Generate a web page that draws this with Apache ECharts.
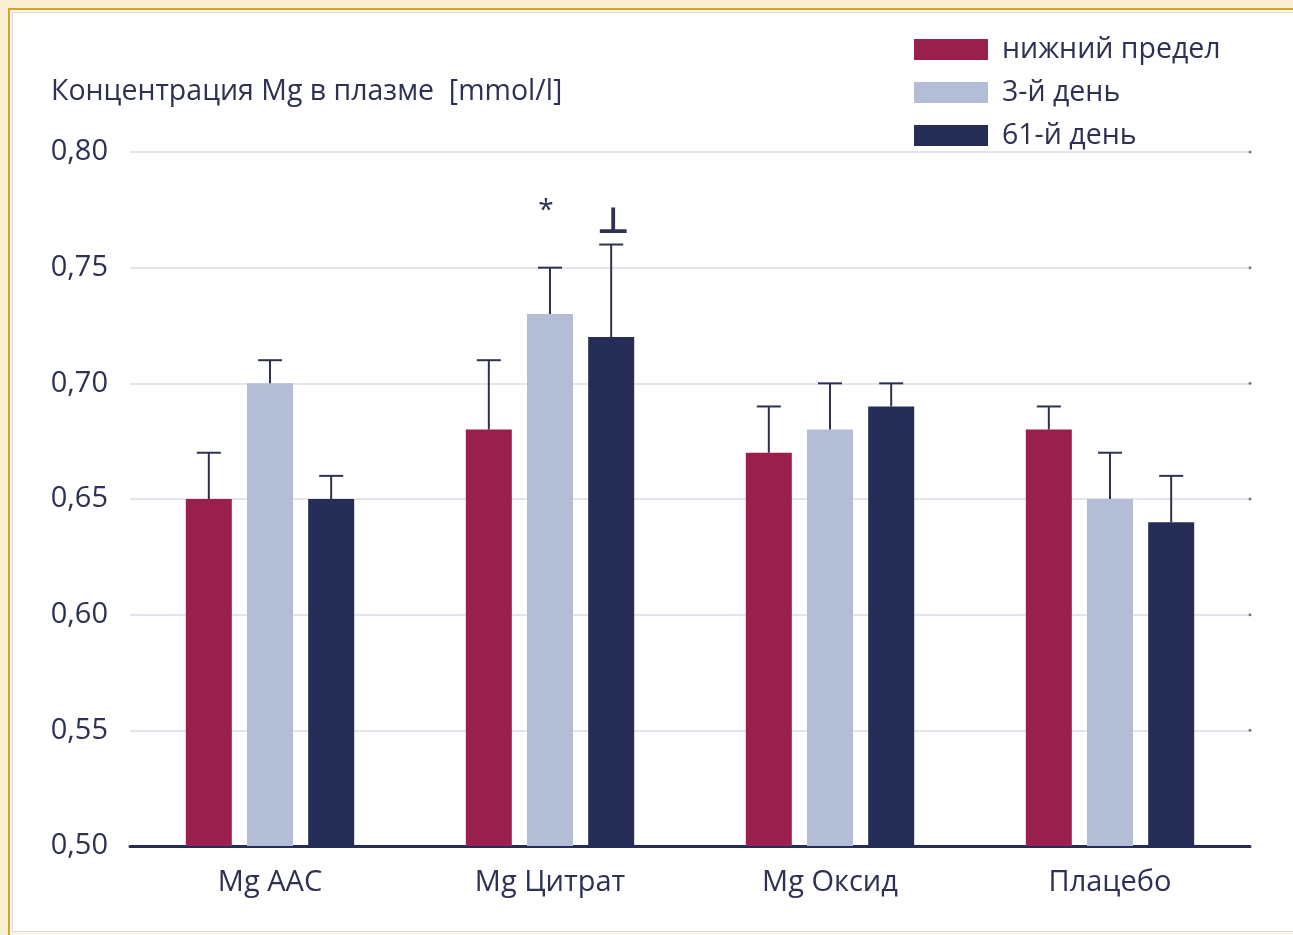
<!DOCTYPE html>
<html><head><meta charset="utf-8">
<script src="https://cdn.jsdelivr.net/npm/echarts@6/dist/echarts.min.js"></script>
<style>
html,body{margin:0;padding:0;width:1293px;height:935px;overflow:hidden;background:#f8efd2;}
#frame{position:absolute;left:8px;top:8px;width:1290px;height:935px;border-left:2px solid #d2a628;border-top:2px solid #d2a628;background:#fbf6e6;}
#panel{position:absolute;left:12px;top:12px;width:1290px;height:918px;background:#fff;border:1px solid #dcdcdc;}
#chart{position:absolute;left:0;top:0;width:1293px;height:935px;}
</style></head>
<body>
<div id="frame"></div><div id="panel"></div>
<div id="chart"></div>
<script>
const categories = ['Mg AAC', 'Mg Цитрат', 'Mg Оксид', 'Плацебо'];
const seriesNames = ['нижний предел', '3-й день', '61-й день'];
const lowerLimit = [0.65, 0.68, 0.67, 0.68];
const day3 = [0.70, 0.73, 0.68, 0.65];
const day61 = [0.65, 0.72, 0.69, 0.64];
const lowerLimitErrTop = [0.67, 0.71, 0.69, 0.69];
const day3ErrTop = [0.71, 0.75, 0.70, 0.67];
const day61ErrTop = [0.66, 0.76, 0.70, 0.66];
const yTicks = [0.50, 0.55, 0.60, 0.65, 0.70, 0.75, 0.80];
const annotCats = [1, 1];
const annotSeries = [1, 2];
const annotText = ['*', '⊥'];
const annotY = [0.7745, 0.769];

const colors = ['#9a1f4d', '#b3bed6', '#252c56'];
const ink = '#2d3152';
const FONT = '"Open Sans", "Noto Sans", sans-serif';
const BW = 46, GAP = BW * 0.33;
const offsets = [-(BW + GAP), 0, BW + GAP];

const values = [lowerLimit, day3, day61];
const errs = [lowerLimitErrTop, day3ErrTop, day61ErrTop];

const series = [];
values.forEach((vals, i) => {
  series.push({
    name: seriesNames[i], type: 'bar', data: vals, barWidth: BW, barGap: '33%',
    itemStyle: { color: colors[i] }, z: 2
  });
});
values.forEach((vals, i) => {
  series.push({
    type: 'custom', silent: true, z: 5,
    data: vals.map((v, k) => [k, v, errs[i][k]]),
    renderItem: function (params, api) {
      const b = api.coord([api.value(0), api.value(1)]);
      const t = api.coord([api.value(0), api.value(2)]);
      const x = b[0] + offsets[i];
      const st = { stroke: ink, lineWidth: 2 };
      return { type: 'group', children: [
        { type: 'line', shape: { x1: x, y1: b[1], x2: x, y2: t[1] }, style: st },
        { type: 'line', shape: { x1: x - 12, y1: t[1], x2: x + 12, y2: t[1] }, style: st }
      ]};
    }
  });
});
series.push({
  type: 'custom', silent: true, z: 6,
  data: annotCats.map((c, k) => [c, annotY[k], annotSeries[k], k]),
  renderItem: function (params, api) {
    const p = api.coord([api.value(0), api.value(1)]);
    const k = api.value(3);
    const x = p[0] + offsets[api.value(2)] + (k === 0 ? -4 : 2);
    return { type: 'text', x: x, y: p[1], style: {
      text: annotText[k], fill: ink, align: 'center', verticalAlign: 'middle',
      font: (k === 1 ? 'bold 36px "DejaVu Sans", ' : '28px ') + FONT
    }};
  }
});
// small dots at right end of grid lines
series.push({
  type: 'scatter', silent: true, z: 4, symbolSize: 3,
  itemStyle: { color: '#555a70' },
  data: yTicks.slice(1).map(v => [categories.length - 1, v]),
  symbolOffset: [140, 0]
});

const chart = echarts.init(document.getElementById('chart'));
chart.setOption({
  animation: false,
  title: {
    text: 'Концентрация Mg в плазме  [mmol/l]', left: 46, top: 72,
    textStyle: { color: ink, fontSize: 28.5, fontWeight: 'normal', fontFamily: FONT }
  },
  legend: {
    data: seriesNames, orient: 'vertical', left: 909, top: 30,
    itemWidth: 74, itemHeight: 21, itemGap: 14, icon: 'rect',
    textStyle: { color: ink, fontSize: 28.5, lineHeight: 28, fontFamily: FONT, padding: [0, 0, 0, 9] }
  },
  grid: { left: 130, right: 43, top: 152, bottom: 89 },
  xAxis: {
    type: 'category', data: categories,
    axisLine: { lineStyle: { color: '#252c56', width: 3 } },
    axisTick: { show: false },
    axisLabel: { color: ink, fontSize: 29, fontFamily: FONT, margin: 22 }
  },
  yAxis: {
    type: 'value', min: yTicks[0], max: yTicks[yTicks.length - 1], interval: 0.05,
    axisLine: { show: false }, axisTick: { show: false },
    splitLine: { lineStyle: { color: '#e4e4ec', width: 2 } },
    axisLabel: { color: ink, fontSize: 29, fontFamily: FONT, margin: 22,
      formatter: v => v.toFixed(2).replace('.', ',') }
  },
  series: series
});
</script>
</body></html>
